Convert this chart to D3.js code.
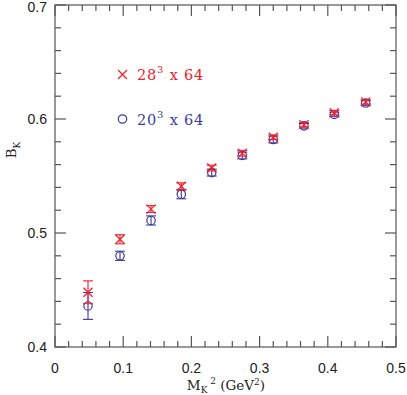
<!DOCTYPE html>
<html><head><meta charset="utf-8">
<script src="https://cdn.jsdelivr.net/npm/d3@7"></script>
<style>body{margin:0;background:#fff}</style>
</head><body>
<svg id="c" width="407" height="395"></svg>
<script>
const msq = [0.0484, 0.0953, 0.1408, 0.1852, 0.2298, 0.2746, 0.3201, 0.365, 0.4096, 0.4556];
const bk28 = [0.448, 0.4945, 0.521, 0.541, 0.557, 0.570, 0.584, 0.595, 0.6055, 0.615];
const err28 = [0.010, 0.004, 0.003, 0.003, 0.0025, 0.0025, 0.002, 0.002, 0.002, 0.002];
const bk20 = [0.436, 0.480, 0.511, 0.534, 0.553, 0.568, 0.582, 0.594, 0.604, 0.614];
const err20 = [0.0118, 0.004, 0.004, 0.004, 0.003, 0.003, 0.003, 0.002, 0.002, 0.002];
const xTicks = [0, 0.1, 0.2, 0.3, 0.4, 0.5];
const yTicks = [0.4, 0.5, 0.6, 0.7];

const red = "#f0202c", blue = "#3c3c9c", axc = "#555";
const L = 55, R = 396, T = 5, B = 347;
const x = d3.scaleLinear().domain([0, 0.5]).range([L, R]);
const y = d3.scaleLinear().domain([0.4, 0.7]).range([B, T]);
const svg = d3.select("#c");

// frame
svg.append("rect").attr("x", L).attr("y", T).attr("width", R - L).attr("height", B - T)
  .attr("fill", "none").attr("stroke", axc).attr("stroke-width", 1.2);

const minorX = d3.range(0, 0.5001, 0.02);
const minorY = d3.range(0.4, 0.7001, 0.02);
const isMajor = v => Math.abs(v * 10 - Math.round(v * 10)) < 1e-6;
const g = svg.append("g").attr("stroke", axc).attr("stroke-width", 1.2);
minorX.forEach(v => {
  const len = isMajor(v) ? 11 : 6;
  g.append("line").attr("x1", x(v)).attr("x2", x(v)).attr("y1", B).attr("y2", B - len);
  g.append("line").attr("x1", x(v)).attr("x2", x(v)).attr("y1", T).attr("y2", T + len);
});
minorY.forEach(v => {
  const len = isMajor(v) ? 11 : 6;
  g.append("line").attr("y1", y(v)).attr("y2", y(v)).attr("x1", L).attr("x2", L + len);
  g.append("line").attr("y1", y(v)).attr("y2", y(v)).attr("x1", R).attr("x2", R - len);
});

// tick labels
const lab = svg.append("g").attr("font-family", "Liberation Sans, Arial, sans-serif").attr("font-size", 14).attr("fill", "#222");
xTicks.forEach(v => lab.append("text").attr("x", x(v)).attr("y", 373).attr("text-anchor", "middle").text(d3.format(".1f")(v).replace(/^0\.0$/, "0")));
yTicks.forEach(v => lab.append("text").attr("x", 47).attr("y", Math.max(y(v) + 5, 12)).attr("text-anchor", "end").text(d3.format(".1f")(v)));

// axis titles
const xt = svg.append("text").attr("x", 226).attr("y", 390).attr("text-anchor", "middle")
  .attr("font-family", "DejaVu Serif, serif").attr("font-size", 13.5).attr("fill", "#222");
xt.append("tspan").text("M");
xt.append("tspan").attr("font-size", 9).attr("dy", 3).text("K");
xt.append("tspan").attr("font-size", 9).attr("dy", -9).text(" 2");
xt.append("tspan").attr("dy", 6).text("  (GeV");
xt.append("tspan").attr("font-size", 9).attr("dy", -5).text("2");
xt.append("tspan").attr("dy", 5).text(")");

const yt = svg.append("text").attr("transform", "translate(16,150) rotate(-90)").attr("text-anchor", "middle")
  .attr("font-family", "DejaVu Serif, serif").attr("font-size", 13.5).attr("fill", "#222");
yt.append("tspan").text("B");
yt.append("tspan").attr("font-size", 9).attr("dy", 4).text("K");

// data
function errbars(xs, ys, es, color) {
  const eg = svg.append("g").attr("stroke", color).attr("stroke-width", 1.1);
  xs.forEach((xv, i) => {
    const cx = x(xv), y1 = y(ys[i] - es[i]), y2 = y(ys[i] + es[i]);
    eg.append("line").attr("x1", cx).attr("x2", cx).attr("y1", y1).attr("y2", y2);
    eg.append("line").attr("x1", cx - 5).attr("x2", cx + 5).attr("y1", y1).attr("y2", y1);
    eg.append("line").attr("x1", cx - 5).attr("x2", cx + 5).attr("y1", y2).attr("y2", y2);
  });
}
errbars(msq, bk20, err20, blue);
svg.append("g").selectAll("circle").data(msq).join("circle")
  .attr("cx", d => x(d)).attr("cy", (d, i) => y(bk20[i])).attr("r", 4.2)
  .attr("fill", "none").attr("stroke", blue).attr("stroke-width", 1.2);
errbars(msq, bk28, err28, red);
const cr = svg.append("g").attr("stroke", red).attr("stroke-width", 1.2);
msq.forEach((d, i) => {
  const cx = x(d), cy = y(bk28[i]), s = 4.5;
  cr.append("line").attr("x1", cx - s).attr("x2", cx + s).attr("y1", cy - s).attr("y2", cy + s);
  cr.append("line").attr("x1", cx - s).attr("x2", cx + s).attr("y1", cy + s).attr("y2", cy - s);
});

// legend
const lg = svg.append("g");
lg.append("line").attr("x1", 118).attr("x2", 127).attr("y1", 70).attr("y2", 79).attr("stroke", red).attr("stroke-width", 1.2);
lg.append("line").attr("x1", 118).attr("x2", 127).attr("y1", 79).attr("y2", 70).attr("stroke", red).attr("stroke-width", 1.2);
lg.append("circle").attr("cx", 122.5).attr("cy", 119).attr("r", 4.2).attr("fill", "none").attr("stroke", blue).attr("stroke-width", 1.2);
function legText(yb, big, color) {
  const t = lg.append("text").attr("x", 137).attr("y", yb).attr("font-family", "DejaVu Serif, serif")
    .attr("font-size", 14.5).attr("letter-spacing", 0.8).attr("fill", color);
  t.append("tspan").text(big);
  t.append("tspan").attr("font-size", 10).attr("dy", -7).text("3");
  t.append("tspan").attr("dy", 7).text("  x  64");
}
legText(80, "28", red);
legText(125, "20", blue);
</script>
</body></html>
